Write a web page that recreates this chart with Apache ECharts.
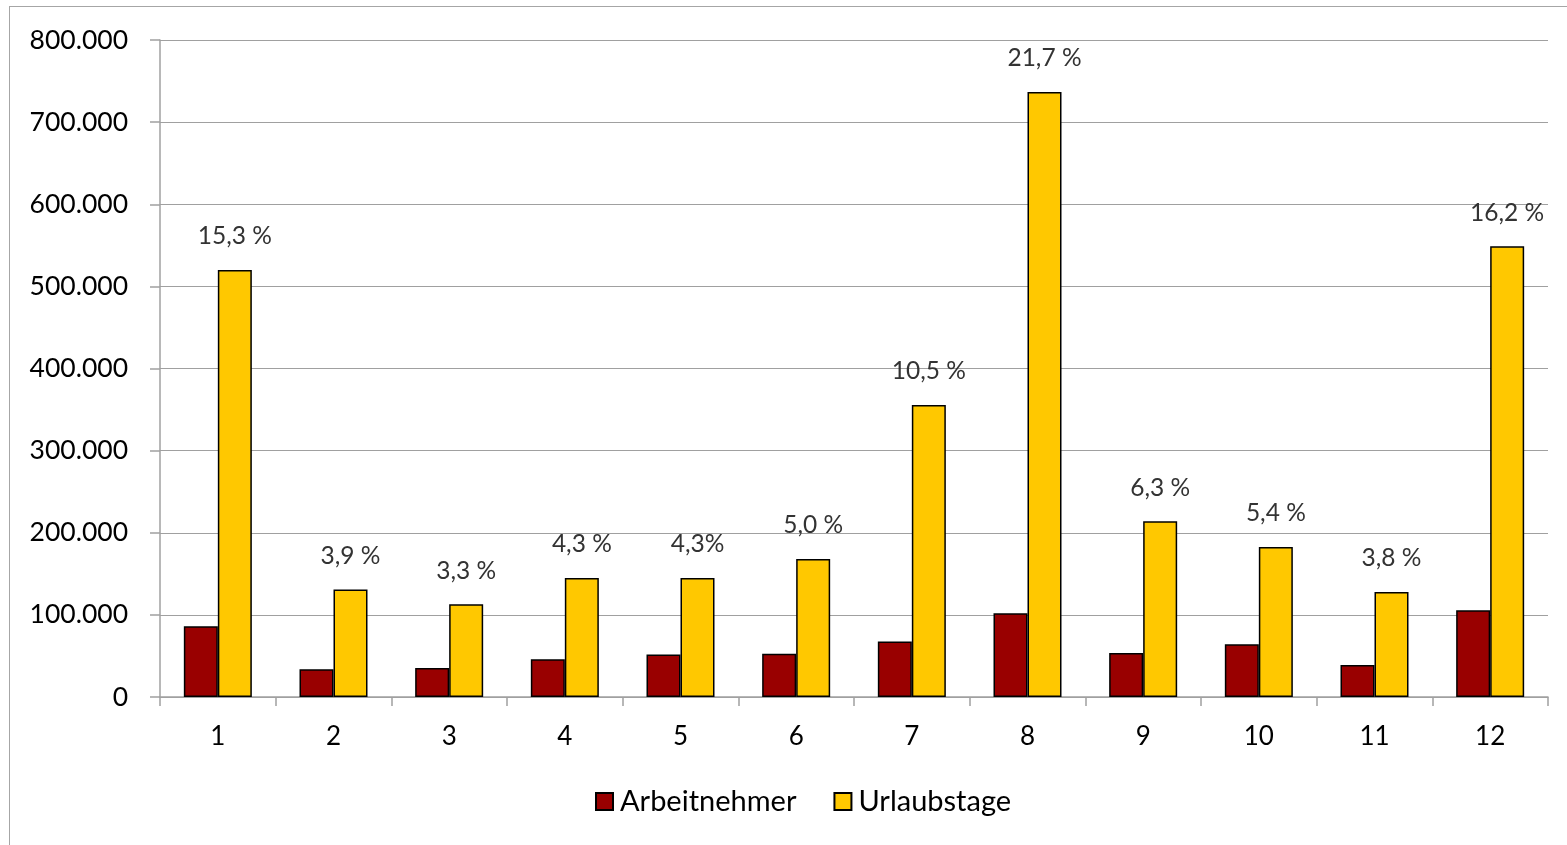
<!DOCTYPE html>
<html>
<head>
<meta charset="utf-8">
<script src="https://cdn.jsdelivr.net/npm/echarts@6/dist/echarts.min.js"></script>
<style>
html,body{margin:0;padding:0;background:#fff;overflow:hidden;}
#frame{position:absolute;left:9px;top:6px;width:1600px;height:900px;border:1px solid #a6a6a6;box-sizing:border-box;}
#chart{position:absolute;left:0;top:0;width:1567px;height:845px;}
</style>
</head>
<body>
<div id="frame"></div>
<div id="chart"></div>
<script>
const categories = ['1','2','3','4','5','6','7','8','9','10','11','12'];
const arbeitnehmer = [86000, 33700, 35300, 46000, 51600, 52800, 67500, 102000, 53600, 64200, 39000, 105600];
const urlaubstage = [520000, 131000, 113000, 145000, 145000, 168000, 355500, 736700, 214000, 182600, 128000, 549000];
const percentLabels = ['15,3 %','3,9 %','3,3 %','4,3 %','4,3%','5,0 %','10,5 %','21,7 %','6,3 %','5,4 %','3,8 %','16,2 %'];
const yTicks = [0, 100000, 200000, 300000, 400000, 500000, 600000, 700000, 800000];

const FONT = 'Lato';
function fmt(v){ return v === 0 ? '0' : String(v).replace(/\B(?=(\d{3})+(?!\d))/g, '.'); }

const chart = echarts.init(document.getElementById('chart'), null, {renderer:'canvas'});
chart.setOption({
  animation:false,
  backgroundColor:'transparent',
  textStyle:{fontFamily:FONT},
  grid:{left:160, right:19, top:40, bottom:148, containLabel:false},
  legend:{
    bottom:24, left:590,
    itemWidth:17, itemHeight:17, itemGap:37,
    icon:'rect',
    textStyle:{fontFamily:FONT, fontSize:29, color:'#000', padding:[0,0,0,2]},
    data:['Arbeitnehmer','Urlaubstage']
  },
  xAxis:{
    type:'category', data:categories,
    axisLine:{lineStyle:{color:'#a0a0a0', width:1.5}},
    axisTick:{show:true, length:9, alignWithLabel:false, lineStyle:{color:'#a0a0a0', width:1.5}},
    axisLabel:{fontFamily:FONT, fontSize:26, color:'#000', margin:27}
  },
  yAxis:{
    type:'value', min:0, max:800000, interval:100000,
    axisLine:{show:true, lineStyle:{color:'#a0a0a0', width:1.5}},
    axisTick:{show:true, length:10, inside:false, lineStyle:{color:'#a0a0a0', width:1.5}},
    splitLine:{lineStyle:{color:'#a0a0a0', width:1.2}},
    axisLabel:{fontFamily:FONT, fontSize:26.5, color:'#000', margin:32,
      formatter:function(v){ return yTicks.indexOf(v) >= 0 ? fmt(v) : ''; }}
  },
  series:[
    {
      name:'Arbeitnehmer', type:'bar', data:arbeitnehmer,
      barWidth:34, barGap:'0%', barCategoryGap:'41%',
      itemStyle:{color:'#990000', borderColor:'#000', borderWidth:1.5}
    },
    {
      name:'Urlaubstage', type:'bar',
      data:urlaubstage.map(function(v,i){ return {value:v, label:{formatter:percentLabels[i]}}; }),
      barWidth:34, barGap:'0%', barCategoryGap:'41%',
      itemStyle:{color:'#ffc800', borderColor:'#000', borderWidth:1.5},
      label:{show:true, position:'top', distance:21, fontFamily:FONT, fontSize:24.5, color:'#333'}
    }
  ]
});
</script>
</body>
</html>
